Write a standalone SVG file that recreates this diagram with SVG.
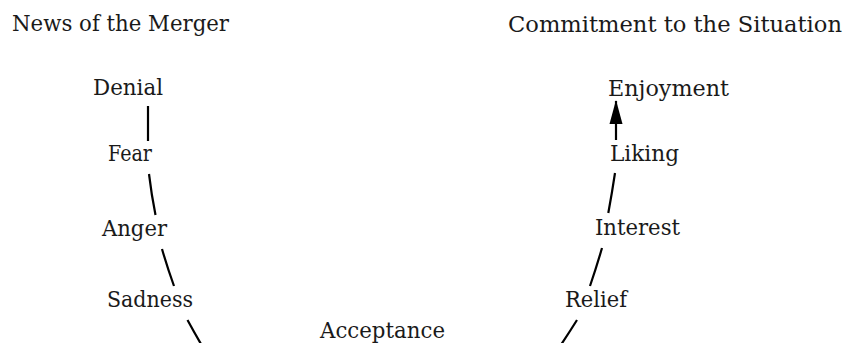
<svg xmlns="http://www.w3.org/2000/svg" width="845" height="343" viewBox="0 0 845 343">
<defs>
<style>
text{font-family:"DejaVu Serif","Liberation Serif",serif;font-size:22px;fill:#1a1a1a}
.n text{text-anchor:middle}
.c path{fill:none;stroke:#000;stroke-width:2.2;stroke-linecap:butt}
</style>
<marker id="ah" viewBox="0 0 24 14" refX="23" refY="7" markerWidth="24" markerHeight="14" markerUnits="userSpaceOnUse" orient="auto">
<path d="M0,0.5 L24,7 L0,13.5 Z" fill="#000"/>
</marker>
</defs>
<rect width="845" height="343" fill="#fff"/>
<g id="title-left"><text x="12" y="31" textLength="217" lengthAdjust="spacingAndGlyphs">News of the Merger</text></g>
<g id="title-right"><text x="508" y="32" textLength="334" lengthAdjust="spacingAndGlyphs">Commitment to the Situation</text></g>
<g class="n">
<g id="denial"><text x="128" y="95" textLength="70" lengthAdjust="spacingAndGlyphs">Denial</text></g>
<g id="fear"><text x="130" y="161" textLength="44" lengthAdjust="spacingAndGlyphs">Fear</text></g>
<g id="anger"><text x="134.5" y="236" textLength="65" lengthAdjust="spacingAndGlyphs">Anger</text></g>
<g id="sadness"><text x="150" y="307" textLength="86" lengthAdjust="spacingAndGlyphs">Sadness</text></g>
<g id="acceptance"><text x="382.5" y="338" textLength="125" lengthAdjust="spacingAndGlyphs">Acceptance</text></g>
<g id="relief"><text x="596" y="307" textLength="62" lengthAdjust="spacingAndGlyphs">Relief</text></g>
<g id="interest"><text x="637.5" y="235" textLength="85" lengthAdjust="spacingAndGlyphs">Interest</text></g>
<g id="liking"><text x="644.5" y="161" textLength="69" lengthAdjust="spacingAndGlyphs">Liking</text></g>
<g id="enjoyment"><text x="668.5" y="95.5" textLength="121" lengthAdjust="spacingAndGlyphs">Enjoyment</text></g>
</g>
<g id="connectors" class="c">
<path d="M148,106 L148,141"/>
<path d="M149,174 Q151.5,195 155.5,215"/>
<path d="M162,249 Q167.5,268 174,286"/>
<path d="M187.5,320 Q194,332 201,344"/>
<path d="M561.5,344 Q569.5,332 577,320"/>
<path d="M590,286 Q596.5,267 602,248"/>
<path d="M608.3,213 Q612,193 615,173"/>
<path d="M616,140 L616,101" marker-end="url(#ah)"/>
</g>
</svg>
